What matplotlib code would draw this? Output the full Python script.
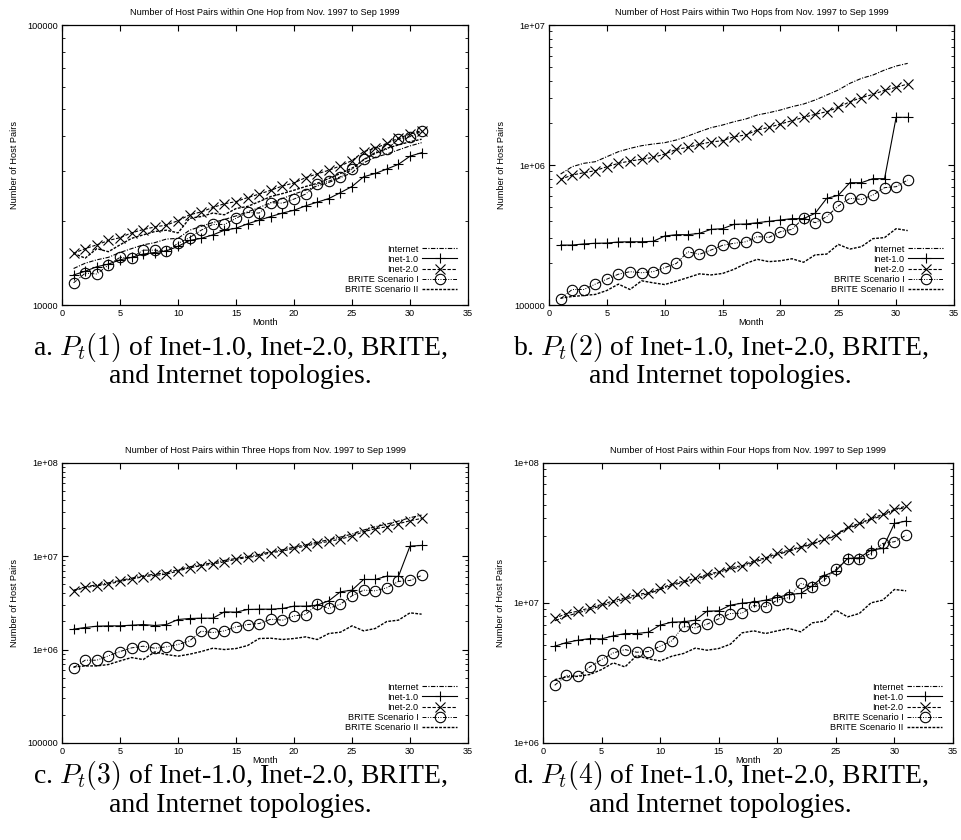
import math
import matplotlib
matplotlib.use("Agg")
import matplotlib.pyplot as plt
from matplotlib.ticker import FixedLocator, LogLocator, NullFormatter, FuncFormatter

plt.rcParams["font.family"] = ["Liberation Sans", "DejaVu Sans"]
plt.rcParams["mathtext.fontset"] = "cm"

# ------------------------------------------------------------
# Data
# ------------------------------------------------------------
months = list(range(1, 32))
series_names = ["Internet", "Inet-1.0", "Inet-2.0", "BRITE Scenario I", "BRITE Scenario II"]

# panel a: one hop
a_internet = [13500, 14100, 14500, 14800, 15400, 15900, 16400, 16700, 17200, 17300, 18500, 19100, 19700,
              20200, 20800, 21500, 22300, 23200, 24000, 24900, 25700, 26600, 27400, 28500, 29700, 32200,
              33700, 34600, 35800, 37000, 38000]
a_inet1 = [12800, 13200, 13700, 14000, 14500, 14800, 15200, 15400, 15600, 16200, 17000, 17300, 17800,
           18500, 18800, 19500, 20100, 20700, 21300, 21800, 22600, 23300, 24000, 25200, 26500, 28700,
           29500, 30600, 31800, 34000, 35000]
a_inet2 = [15300, 15900, 16400, 17000, 17400, 18100, 18600, 19000, 19300, 20000, 21000, 21500, 22300,
           23000, 23400, 24200, 24900, 25700, 26600, 27300, 28500, 29400, 30300, 31400, 32800, 35300,
           36300, 37800, 39400, 40800, 42000]
a_brite1 = [12000, 13000, 12900, 13900, 14800, 14750, 15700, 15700, 15600, 16600, 17400, 18500, 19400,
            19400, 20400, 21400, 21300, 23200, 23100, 23900, 24900, 27000, 27700, 28700, 30500, 33100,
            35100, 36000, 39100, 39900, 41800]
a_brite2 = [15300, 14700, 15900, 15500, 16400, 17300, 17800, 18300, 18500, 18100, 20400, 20700, 21300,
            21000, 22100, 22500, 23400, 24400, 25000, 25700, 26500, 27200, 28300, 29500, 30800, 33000,
            34800, 36300, 37300, 38300, 39100]

# panel b: two hops
b_internet = [862e3, 973e3, 1.028e6, 1.056e6, 1.147e6, 1.245e6, 1.315e6, 1.374e6, 1.413e6, 1.444e6,
              1.509e6, 1.611e6, 1.730e6, 1.848e6, 1.931e6, 2.039e6, 2.131e6, 2.276e6, 2.365e6, 2.471e6,
              2.610e6, 2.727e6, 2.913e6, 3.162e6, 3.434e6, 3.832e6, 4.159e6, 4.394e6, 4.771e6, 5.095e6,
              5.323e6]
b_inet1 = [268e3, 268e3, 273e3, 276e3, 277e3, 282e3, 283e3, 283e3, 285e3, 311e3, 318e3, 318e3, 325e3,
           347e3, 351e3, 377e3, 379e3, 387e3, 396e3, 405e3, 414e3, 414e3, 452e3, 578e3, 607e3, 748e3,
           748e3, 799e3, 799e3, 2.191e6, 2.191e6]
b_inet2 = [790e3, 848e3, 881e3, 911e3, 973e3, 1.028e6, 1.068e6, 1.098e6, 1.134e6, 1.198e6, 1.293e6,
           1.337e6, 1.405e6, 1.460e6, 1.492e6, 1.594e6, 1.638e6, 1.778e6, 1.858e6, 1.963e6, 2.074e6,
           2.191e6, 2.301e6, 2.404e6, 2.582e6, 2.834e6, 3.027e6, 3.197e6, 3.415e6, 3.588e6, 3.790e6]
b_brite1 = [111e3, 129e3, 129e3, 141e3, 153e3, 166e3, 173e3, 170e3, 173e3, 185e3, 198e3, 240e3, 230e3,
            247e3, 267e3, 276e3, 283e3, 308e3, 304e3, 334e3, 347e3, 418e3, 387e3, 428e3, 510e3, 578e3,
            568e3, 611e3, 689e3, 700e3, 782e3]
b_brite2 = [112e3, 115e3, 117e3, 119e3, 127e3, 141e3, 129e3, 149e3, 144e3, 140e3, 148e3, 157e3, 167e3,
            164e3, 168e3, 180e3, 198e3, 212e3, 204e3, 207e3, 214e3, 202e3, 228e3, 231e3, 271e3, 251e3,
            261e3, 298e3, 303e3, 351e3, 340e3]

# panel c: three hops
c_internet = [4.32e6, 4.69e6, 4.93e6, 5.18e6, 5.49e6, 5.81e6, 6.16e6, 6.41e6, 6.63e6, 7.14e6, 7.69e6,
              8.08e6, 8.49e6, 8.99e6, 9.44e6, 9.92e6, 1.042e7, 1.113e7, 1.169e7, 1.249e7, 1.322e7,
              1.413e7, 1.496e7, 1.598e7, 1.721e7, 1.90e7, 2.062e7, 2.203e7, 2.371e7, 2.575e7, 2.75e7]
c_inet1 = [1.652e6, 1.721e6, 1.778e6, 1.793e6, 1.793e6, 1.822e6, 1.853e6, 1.808e6, 1.853e6, 2.096e6,
           2.149e6, 2.166e6, 2.166e6, 2.533e6, 2.512e6, 2.683e6, 2.705e6, 2.705e6, 2.75e6, 2.913e6,
           2.913e6, 2.985e6, 3.322e6, 4.149e6, 4.322e6, 5.623e6, 5.623e6, 6.105e6, 6.054e6, 1.28e7,
           1.301e7]
c_inet2 = [4.25e6, 4.62e6, 4.81e6, 5.01e6, 5.36e6, 5.67e6, 6.01e6, 6.21e6, 6.41e6, 6.91e6, 7.50e6,
           7.88e6, 8.21e6, 8.70e6, 9.21e6, 9.68e6, 1.008e7, 1.086e7, 1.131e7, 1.208e7, 1.28e7, 1.367e7,
           1.436e7, 1.521e7, 1.638e7, 1.823e7, 1.963e7, 2.062e7, 2.22e7, 2.391e7, 2.533e7]
c_brite1 = [6.41e5, 7.69e5, 7.69e5, 8.55e5, 9.52e5, 1.042e6, 1.086e6, 1.033e6, 1.068e6, 1.131e6,
            1.238e6, 1.572e6, 1.521e6, 1.585e6, 1.749e6, 1.853e6, 1.899e6, 2.113e6, 2.062e6, 2.295e6,
            2.371e6, 3.06e6, 2.75e6, 3.06e6, 3.758e6, 4.322e6, 4.252e6, 4.579e6, 5.355e6, 5.488e6,
            6.206e6]
c_brite2 = [6.52e5, 6.68e5, 6.68e5, 6.91e5, 7.56e5, 8.21e5, 7.81e5, 9.44e5, 8.84e5, 8.49e5, 8.91e5,
            9.52e5, 1.033e6, 1.0e6, 1.025e6, 1.104e6, 1.312e6, 1.322e6, 1.28e6, 1.312e6, 1.367e6,
            1.28e6, 1.484e6, 1.533e6, 1.793e6, 1.585e6, 1.679e6, 1.995e6, 2.062e6, 2.471e6, 2.391e6]

# panel d: four hops
d_internet = [7.44e6, 8.03e6, 8.49e6, 8.96e6, 9.52e6, 1.006e7, 1.062e7, 1.116e7, 1.16e7, 1.245e7,
              1.33e7, 1.405e7, 1.468e7, 1.56e7, 1.638e7, 1.74e7, 1.808e7, 1.952e7, 2.062e7, 2.203e7,
              2.339e7, 2.471e7, 2.624e7, 2.803e7, 3.01e7, 3.396e7, 3.626e7, 3.937e7, 4.182e7, 4.591e7,
              4.797e7]
d_inet1 = [4.90e6, 5.21e6, 5.41e6, 5.56e6, 5.53e6, 5.81e6, 6.04e6, 6.04e6, 6.17e6, 6.93e6, 7.28e6,
           7.32e6, 7.52e6, 8.72e6, 8.77e6, 9.62e6, 9.95e6, 1.011e7, 1.045e7, 1.092e7, 1.147e7, 1.166e7,
           1.322e7, 1.56e7, 1.693e7, 2.073e7, 2.096e7, 2.378e7, 2.444e7, 3.686e7, 3.831e7]
d_inet2 = [7.73e6, 8.39e6, 8.72e6, 9.21e6, 9.73e6, 1.033e7, 1.086e7, 1.147e7, 1.179e7, 1.266e7,
           1.36e7, 1.428e7, 1.492e7, 1.594e7, 1.665e7, 1.788e7, 1.838e7, 1.995e7, 2.096e7, 2.251e7,
           2.378e7, 2.512e7, 2.653e7, 2.834e7, 3.043e7, 3.452e7, 3.686e7, 4.003e7, 4.276e7, 4.642e7,
           4.904e7]
d_brite1 = [2.58e6, 3.04e6, 2.99e6, 3.49e6, 3.94e6, 4.39e6, 4.64e6, 4.44e6, 4.49e6, 4.90e6, 5.36e6,
            6.81e6, 6.63e6, 7.04e6, 7.69e6, 8.39e6, 8.44e6, 9.57e6, 9.36e6, 1.045e7, 1.092e7, 1.375e7,
            1.301e7, 1.452e7, 1.73e7, 2.062e7, 2.062e7, 2.251e7, 2.653e7, 2.728e7, 3.043e7]
d_brite2 = [2.83e6, 2.96e6, 2.99e6, 3.08e6, 3.34e6, 3.73e6, 3.49e6, 4.21e6, 3.98e6, 3.85e6, 4.16e6,
            4.35e6, 4.75e6, 4.59e6, 4.72e6, 5.07e6, 6.11e6, 6.31e6, 6.04e6, 6.31e6, 6.56e6, 6.21e6,
            7.20e6, 7.40e6, 8.87e6, 7.94e6, 8.39e6, 1.0e7, 1.045e7, 1.245e7, 1.218e7]

hop_words = ["One Hop", "Two Hops", "Three Hops", "Four Hops"]
panel_letters = ["a", "b", "c", "d"]
y_ranges = [(1e4, 1e5), (1e5, 1e7), (1e5, 1e8), (1e6, 1e8)]

# ------------------------------------------------------------
# Styles (gnuplot look)
# ------------------------------------------------------------
styles = [
    dict(color="black", lw=0.8, dashes=(4, 1.3, 1, 1.3), marker=None),
    dict(color="black", lw=0.8, linestyle="-", marker="+", ms=7.5, mew=0.8),
    dict(color="black", lw=0.8, dashes=(3, 1.5), marker="x", ms=6.5, mew=0.8),
    dict(color="black", lw=0.7, dashes=(4, 1.5, 1, 1.5, 1, 1.5), marker="o", ms=7.5, mew=0.8,
         mfc="none"),
    dict(color="black", lw=1.0, dashes=(2, 1), marker=None),
]

SMALL = 6.6


def gnuplot_fmt(v, pos):
    if v >= 1e6:
        return "1e+%02d" % round(math.log10(v))
    return "%d" % round(v)


def plot_panel(ax, idx, data):
    for name, vals, st in zip(series_names, data, styles):
        ax.plot(months, vals, label=name, **st)

    ax.set_yscale("log")
    ax.set_ylim(*y_ranges[idx])
    ax.set_xlim(0, 35)
    ax.xaxis.set_major_locator(FixedLocator([0, 5, 10, 15, 20, 25, 30, 35]))
    ax.yaxis.set_major_locator(LogLocator(base=10))
    ax.yaxis.set_major_formatter(FuncFormatter(gnuplot_fmt))
    ax.yaxis.set_minor_locator(LogLocator(base=10, subs=range(2, 10)))
    ax.yaxis.set_minor_formatter(NullFormatter())
    ax.tick_params(which="both", direction="in", top=True, right=True, labelsize=SMALL, pad=3)
    ax.tick_params(which="major", length=4, width=0.8)
    ax.tick_params(which="minor", length=2, width=0.6)
    for s in ax.spines.values():
        s.set_linewidth(0.9)

    ax.set_title("Number of Host Pairs within %s from Nov. 1997 to Sep 1999" % hop_words[idx],
                 fontsize=SMALL, pad=7)
    ax.set_xlabel("Month", fontsize=SMALL, labelpad=0)
    ax.set_ylabel("Number of Host Pairs", fontsize=SMALL, labelpad=6)

    ax.legend(loc="lower right", frameon=False, fontsize=SMALL, markerfirst=False, handlelength=3.8,
              labelspacing=0.12, handletextpad=0.4, borderaxespad=0.8)


# ------------------------------------------------------------
# Figure
# ------------------------------------------------------------
fig = plt.figure(figsize=(9.61, 8.4), dpi=100)

axes_pos = [
    [0.0645, 0.6369, 0.4225, 0.3333],
    [0.5713, 0.6369, 0.4214, 0.3333],
    [0.0645, 0.1155, 0.4225, 0.3337],
    [0.5650, 0.1155, 0.4267, 0.3337],
]
all_data = [
    [a_internet, a_inet1, a_inet2, a_brite1, a_brite2],
    [b_internet, b_inet1, b_inet2, b_brite1, b_brite2],
    [c_internet, c_inet1, c_inet2, c_brite1, c_brite2],
    [d_internet, d_inet1, d_inet2, d_brite1, d_brite2],
]

for i in range(4):
    ax = fig.add_axes(axes_pos[i])
    plot_panel(ax, i, all_data[i])

# captions under each panel
caption_x = [0.25, 0.75, 0.25, 0.75]
caption_y = [1 - 347 / 840, 1 - 347 / 840, 1 - 776 / 840, 1 - 776 / 840]
for i in range(4):
    fig.text(caption_x[i], caption_y[i],
             "%s. $P_t(%d)$ of Inet-1.0, Inet-2.0, BRITE," % (panel_letters[i], i + 1),
             ha="center", va="center", fontsize=20, family="Liberation Serif")
    fig.text(caption_x[i], caption_y[i] - 30 / 840, "and Internet topologies.",
             ha="center", va="center", fontsize=20, family="Liberation Serif")

fig.savefig("out.png", dpi=100)
